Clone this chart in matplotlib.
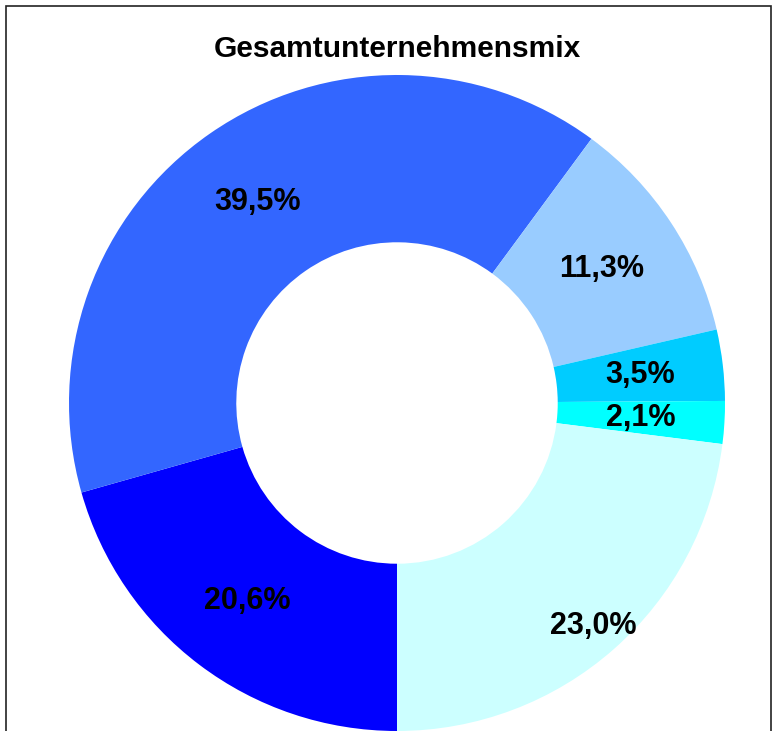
import numpy as np
import matplotlib
matplotlib.use("Agg")
import matplotlib.pyplot as plt
from matplotlib.patches import Rectangle

title = "Gesamtunternehmensmix"
labels = ["20,6%", "39,5%", "11,3%", "3,5%", "2,1%", "23,0%"]
values = [20.6, 39.5, 11.3, 3.5, 2.1, 23.0]
colors = ["#0000FF", "#3366FF", "#99CCFF", "#00CCFF", "#00FFFF", "#CCFFFF"]
label_r = [0.755, 0.745, 0.745, 0.745, 0.745, 0.905]

W, H = 774, 731
cx, cy, R = 397, 403, 328

fig = plt.figure(figsize=(W / 100, H / 100), dpi=100)
ax = fig.add_axes([0, 0, 1, 1])
wedges, _ = ax.pie(values, colors=colors, startangle=-90, counterclock=False,
                   radius=1.0, wedgeprops=dict(width=0.51, linewidth=0))
for w, lab, lr in zip(wedges, labels, label_r):
    ang = np.deg2rad((w.theta1 + w.theta2) / 2)
    ax.text(lr * np.cos(ang), lr * np.sin(ang), lab, ha="center", va="center",
            fontsize=22, fontweight="bold", family=["Liberation Sans", "DejaVu Sans"])

ax.set_xlim(-cx / R, (W - cx) / R)
ax.set_ylim(-(H - cy) / R, cy / R)
ax.set_aspect("auto")
ax.axis("off")

fig.text(cx / W, 1 - 49 / H, title, ha="center", va="center", fontsize=21.5,
         fontweight="bold", family=["Liberation Sans", "DejaVu Sans"])

fig.patches.append(Rectangle((6 / W, -0.05), (771 - 6) / W, 1.05 - 6 / H,
                             transform=fig.transFigure, fill=False,
                             edgecolor="#222222", linewidth=1.2))
fig.savefig("out.png", dpi=100)
